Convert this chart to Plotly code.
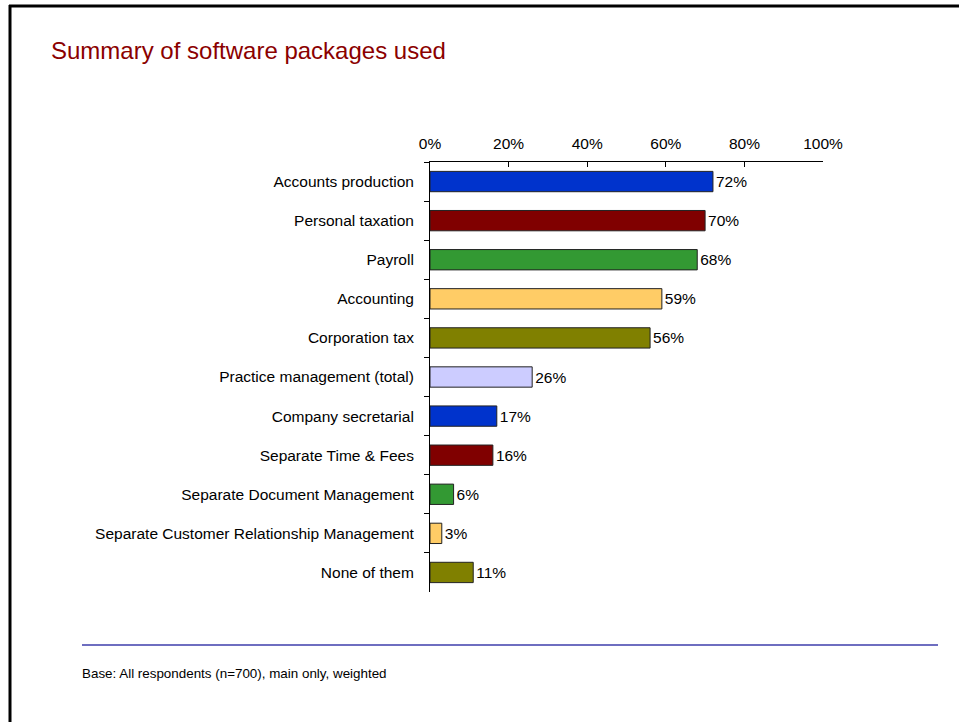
import plotly.graph_objects as go

categories = [
    "Accounts production",
    "Personal taxation",
    "Payroll",
    "Accounting",
    "Corporation tax",
    "Practice management (total)",
    "Company secretarial",
    "Separate Time & Fees",
    "Separate Document Management",
    "Separate Customer Relationship Management",
    "None of them",
]
values = [72, 70, 68, 59, 56, 26, 17, 16, 6, 3, 11]
bar_colors = ["#0033CC", "#800000", "#339933", "#FFCC66", "#808000", "#CCCCFF",
              "#0033CC", "#800000", "#339933", "#FFCC66", "#808000"]
x_ticks = [0, 20, 40, 60, 80, 100]
title_text = "Summary of software packages used"
footnote = "Base: All respondents (n=700), main only, weighted"

W, H = 959, 722
FONT = "Liberation Sans, Arial, sans-serif"

fig = go.Figure(go.Bar(
    x=values, y=categories, orientation="h",
    marker=dict(color=bar_colors, line=dict(color="#222222", width=1)),
    text=[f"{v}%" for v in values], textposition="outside",
    textfont=dict(family=FONT, size=15.5, color="black"),
    cliponaxis=False, hoverinfo="skip",
))

fig.update_layout(
    width=W, height=H, autosize=False,
    margin=dict(l=0, r=0, t=0, b=0, pad=0, autoexpand=False),
    paper_bgcolor="white", plot_bgcolor="white",
    showlegend=False,
    bargap=0.48,
    font=dict(family=FONT, size=15.5, color="black"),
    xaxis=dict(
        domain=[430 / W, 823 / W], range=[0, 100], side="top",
        tickvals=x_ticks, ticktext=[f"{t}%" for t in x_ticks],
        ticks="inside", ticklen=5, tickcolor="black",
        showline=True, linecolor="black", linewidth=1,
        showgrid=False, zeroline=False, fixedrange=True,
        ticklabelstandoff=6,
        tickfont=dict(family=FONT, size=15.5),
    ),
    yaxis=dict(
        domain=[1 - 592 / H, 1 - 162 / H],
        range=[10.5, -0.5], type="category",
        tickson="boundaries", ticks="outside", ticklen=5, tickcolor="black",
        showline=True, linecolor="black", linewidth=1,
        showgrid=False, ticklabelstandoff=12,
        tickfont=dict(family=FONT, size=15.5),
    ),
    annotations=[
        dict(text=title_text, x=49 / W, y=1 - 50 / H, xref="paper", yref="paper",
             xanchor="left", yanchor="middle", showarrow=False,
             font=dict(family=FONT, size=24, color="#8B0000")),
        dict(text=footnote, x=80 / W, y=1 - 673 / H, xref="paper", yref="paper",
             xanchor="left", yanchor="middle", showarrow=False,
             font=dict(family=FONT, size=13.4, color="black")),
    ],
    shapes=[
        dict(type="line", xref="paper", yref="paper", x0=9 / W, x1=1, y0=1 - 6 / H, y1=1 - 6 / H,
             line=dict(color="black", width=3)),
        dict(type="line", xref="paper", yref="paper", x0=10 / W, x1=10 / W, y0=0, y1=1 - 5 / H,
             line=dict(color="black", width=3)),
        dict(type="line", xref="paper", yref="paper", x0=82 / W, x1=938 / W, y0=1 - 645 / H, y1=1 - 645 / H,
             line=dict(color="#6E6EC0", width=2)),
    ],
)

fig.write_html("out.html", config={"responsive": False},
               post_script="document.body.style.margin='0';document.body.style.overflow='hidden';")
